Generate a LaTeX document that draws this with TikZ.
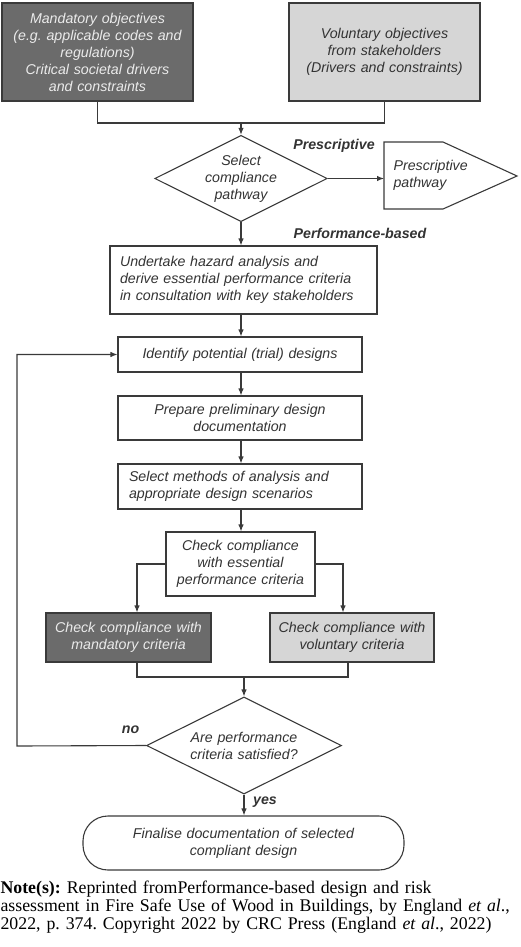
\documentclass[tikz,border=0pt]{standalone}
\usepackage{fontspec}
\setmainfont{Liberation Serif}
\newfontfamily\arialfont{Liberation Sans}
\usetikzlibrary{arrows.meta,shapes.geometric}
\definecolor{linegray}{HTML}{3A3A3A}
\definecolor{darkfill}{HTML}{6B6B6B}
\definecolor{lightfill}{HTML}{D6D6D6}
\definecolor{textgray}{HTML}{333333}
\definecolor{palegray}{HTML}{EBEBEB}
\frenchspacing
\begin{document}
\begin{tikzpicture}[x=1pt, y=-1pt, >={Latex[length=7pt,width=5.5pt]}, line width=1.1pt, draw=linegray,
	box/.style={draw=linegray, rectangle, inner sep=0pt, align=center, text=textgray,
		font=\arialfont\itshape\fontsize{14.2}{17}\selectfont},
	darkbox/.style={box, fill=darkfill, text=palegray},
	lightbox/.style={box, fill=lightfill},
	decision/.style={box, diamond, aspect=2},
	lbl/.style={font=\arialfont\bfseries\itshape\fontsize{14.2}{17}\selectfont, text=textgray, inner sep=0pt}]
	\useasboundingbox (0,0) rectangle (520,947);

	% objectives
	\node[darkbox, minimum width=191, minimum height=98, text width=186] (mand) at (97.5,52)
		{Mandatory objectives\\(e.g. applicable codes and\\regulations)\\Critical societal drivers\\and constraints};
	\node[lightbox, minimum width=191, minimum height=98, text width=186] (vol) at (384.5,52)
		{Voluntary objectives\\from stakeholders\\(Drivers and constraints)};
	\coordinate (join1) at (241,123);
	\draw (mand.south) |- (join1) -| (vol.south);

	% compliance pathway
	\node[decision, text width=78, minimum width=170, minimum height=83] (sel) at (241,178.5)
		{Select\\compliance\\pathway};
	\draw[->] (join1) -- (sel.north);
	\draw[draw=linegray] (384,142) -- (443,142) -- (517,176) -- (443,209) -- (384,209) -- cycle;
	\node[box, draw=none, anchor=west, text width=100, align=left, inner xsep=9pt] (presc) at (384,175.5)
		{Prescriptive\\pathway};
	\draw[->] (sel.east) -- (sel.east -| presc.west);
	\node[lbl] (prlbl) at (334,146) {Prescriptive};
	\node[lbl] (pblbl) at (360,233) {Performance-based};

	% performance-based design steps
	\node[box, minimum width=267, minimum height=68, text width=247, align=left] (hazard) at (243.5,280)
		{Undertake hazard analysis and\\derive essential performance criteria\\in consultation with key stakeholders};
	\node[box, minimum width=244, minimum height=35, text width=236] (ident) at (240,354.5)
		{Identify potential (trial) designs};
	\node[box, minimum width=244, minimum height=44, text width=236] (prep) at (240,418)
		{Prepare preliminary design\\documentation};
	\node[box, minimum width=244, minimum height=45, text width=222, align=left] (meth) at (240,486.5)
		{Select methods of analysis and\\appropriate design scenarios};
	\node[box, minimum width=149, minimum height=64, text width=145] (chk) at (240.5,564)
		{Check compliance\\with essential\\performance criteria};
	\draw[->] (sel.south) -- (sel.south |- hazard.north);
	\draw[->] (sel.south |- hazard.south) -- (sel.south |- ident.north);
	\draw[->] (sel.south |- ident.south) -- (sel.south |- prep.north);
	\draw[->] (sel.south |- prep.south) -- (sel.south |- meth.north);
	\draw[->] (sel.south |- meth.south) -- (sel.south |- chk.north);

	% criteria checks
	\node[darkbox, minimum width=165, minimum height=49, text width=162] (mcrit) at (128.5,637.5)
		{Check compliance with\\mandatory criteria};
	\node[lightbox, minimum width=164, minimum height=49, text width=162] (vcrit) at (352,637.5)
		{Check compliance with\\voluntary criteria};
	\draw[->] (chk.west) -| ([xshift=8.5pt]mcrit.north);
	\draw[->] (chk.east) -| ([xshift=-9pt]vcrit.north);
	\coordinate (join2) at (244,677);
	\draw ([xshift=8.5pt]mcrit.south) |- (join2) -| ([xshift=-4pt]vcrit.south);

	% decision and loop back
	\node[decision, text width=124, minimum width=195, minimum height=97] (perf) at (244,745.5)
		{Are performance\\criteria satisfied?};
	\draw[->] (join2) -- (perf.north);
	\coordinate (back) at (17,746);
	\draw[->] (perf.west) -- (back) |- (ident.west);
	\node[lbl] (nolbl) at (130.5,730) {no};
	\node[lbl] (yeslbl) at (265,802) {yes};

	\node[box, rounded corners=25pt, minimum width=321, minimum height=54, text width=300] (fin) at (243.5,843)
		{Finalise documentation of selected\\compliant design};
	\draw[->] (perf.south) -- (perf.south |- fin.north);

	% note
	\node[anchor=base west, inner sep=0pt, text width=520, align=left,
		font=\fontsize{17.8}{18}\selectfont] (note) at (0,893)
		{\textbf{Note(s):} Reprinted fromPerformance-based design and risk\\
		assessment in Fire Safe Use of Wood in Buildings, by England \textit{et al}.,\\
		2022, p. 374. Copyright 2022 by CRC Press (England \textit{et al}., 2022)};
\end{tikzpicture}
\end{document}
